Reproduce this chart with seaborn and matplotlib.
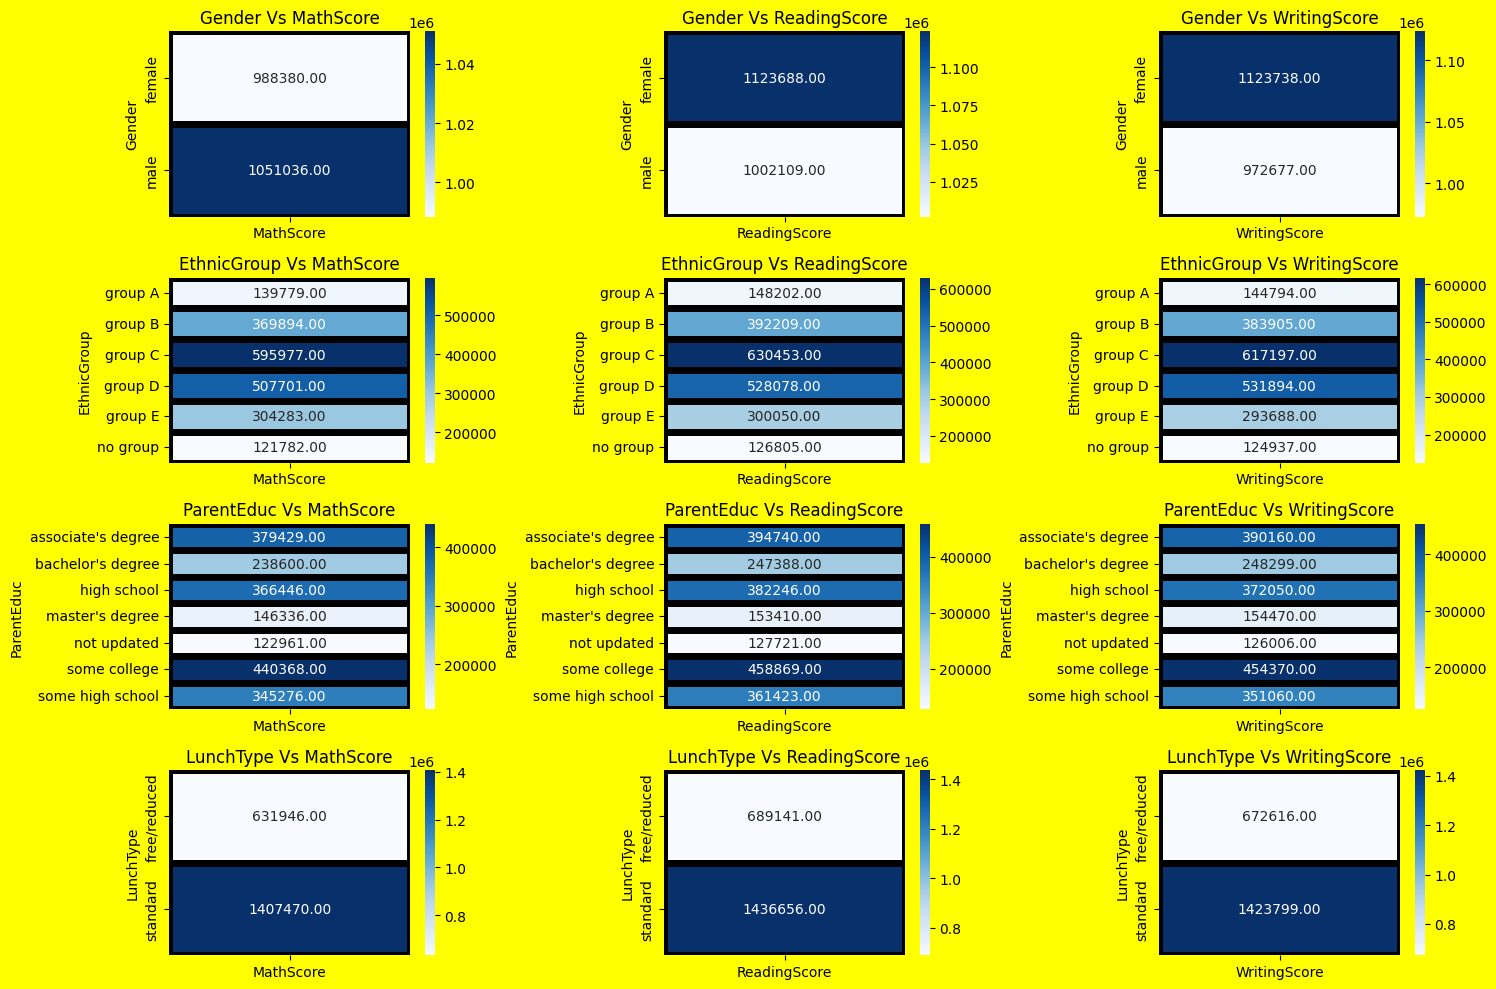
import matplotlib
matplotlib.use("Agg")
import matplotlib.pyplot as plt
import pandas as pd
import seaborn as sns

scores = ["MathScore", "ReadingScore", "WritingScore"]

gender = ["female", "male"]
gender_math = [988380, 1051036]
gender_reading = [1123688, 1002109]
gender_writing = [1123738, 972677]

ethnic = ["group A", "group B", "group C", "group D", "group E", "no group"]
ethnic_math = [139779, 369894, 595977, 507701, 304283, 121782]
ethnic_reading = [148202, 392209, 630453, 528078, 300050, 126805]
ethnic_writing = [144794, 383905, 617197, 531894, 293688, 124937]

parent = ["associate's degree", "bachelor's degree", "high school", "master's degree",
          "not updated", "some college", "some high school"]
parent_math = [379429, 238600, 366446, 146336, 122961, 440368, 345276]
parent_reading = [394740, 247388, 382246, 153410, 127721, 458869, 361423]
parent_writing = [390160, 248299, 372050, 154470, 126006, 454370, 351060]

lunch = ["free/reduced", "standard"]
lunch_math = [631946, 1407470]
lunch_reading = [689141, 1436656]
lunch_writing = [672616, 1423799]

groups = [
    ("Gender", gender, [gender_math, gender_reading, gender_writing]),
    ("EthnicGroup", ethnic, [ethnic_math, ethnic_reading, ethnic_writing]),
    ("ParentEduc", parent, [parent_math, parent_reading, parent_writing]),
    ("LunchType", lunch, [lunch_math, lunch_reading, lunch_writing]),
]

fig, axes = plt.subplots(4, 3, figsize=(15, 10), dpi=100)
fig.patch.set_facecolor("yellow")

for i, (name, cats, vals) in enumerate(groups):
    for j, score in enumerate(scores):
        ax = axes[i, j]
        df = pd.DataFrame({score: vals[j]}, index=pd.Index(cats, name=name))
        sns.heatmap(df, annot=True, fmt=".2f", cmap="Blues", linewidths=5,
                    linecolor="black", ax=ax)
        ax.set_title(f"{name} Vs {score}")

plt.tight_layout()
plt.savefig("out.png", facecolor=fig.get_facecolor(), bbox_inches="tight")
